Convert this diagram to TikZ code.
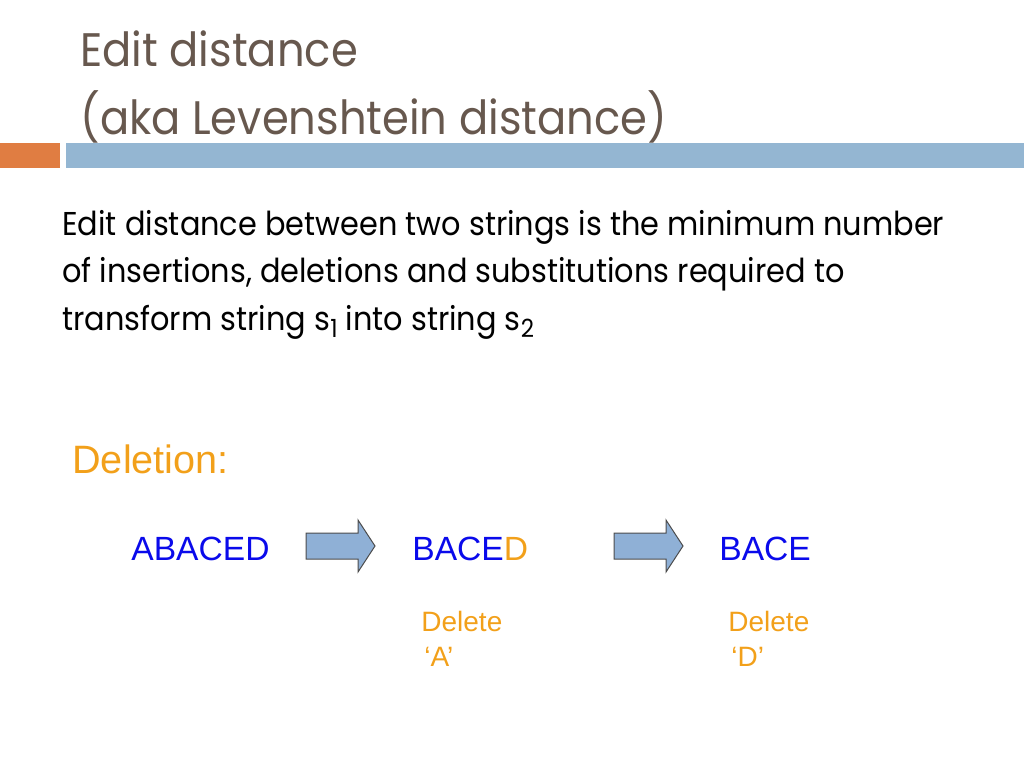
\documentclass[tikz,border=0pt]{standalone}
\usepackage{fontspec}
\setmainfont{Poppins}[FakeStretch=0.92]
\newfontfamily\arialfont{Liberation Sans}
\definecolor{titlegray}{RGB}{103,88,78}
\definecolor{barorange}{RGB}{224,125,66}
\definecolor{barblue}{RGB}{148,182,210}
\definecolor{arrowfill}{RGB}{143,176,214}
\definecolor{delorange}{RGB}{242,160,26}
\definecolor{wordblue}{RGB}{10,10,235}
\newcommand{\lowsub}[1]{\raisebox{-3.5pt}{\fontsize{12.5}{14}\selectfont #1}}
\tikzset{
	title/.style={anchor=base west, inner sep=0, text=titlegray, font=\fontsize{23.5}{28}\selectfont},
	body/.style={anchor=base west, inner sep=0, font=\fontsize{16.5}{20}\selectfont},
	word/.style={anchor=base west, inner sep=0, text=wordblue, font=\arialfont\fontsize{16.8}{20}\selectfont},
	note/.style={anchor=base west, inner sep=0, text=delorange, font=\arialfont\fontsize{14}{16}\selectfont},
	blockarrow/.style={draw=black!70, fill=arrowfill, line width=0.5pt}
}
\begin{document}
\begin{tikzpicture}[x=0.5pt, y=-0.5pt]
	\useasboundingbox (0,0) rectangle (1024,768);
	% title and bar
	\node[title] (title1) at (80,66) {Edit distance};
	\node[title] (title2) at (80,134) {(aka Levenshtein distance)};
	\fill[barorange] (0,143) rectangle (60,168);
	\fill[barblue] (66,143) rectangle (1024,168);
	% definition
	\node[body] (line1) at (62,235) {Edit distance between two strings is the minimum number};
	\node[body] (line2) at (62,282) {of insertions, deletions and substitutions required to};
	\node[body] (line3) at (62,330) {transform string s\lowsub{1} into string s\lowsub{2}};
	% example
	\node[anchor=base west, inner sep=0, text=delorange, font=\arialfont\fontsize{19.8}{24}\selectfont] (deletion) at (72,473) {Deletion:};
	\node[word] (w1) at (131,560) {ABACED};
	\node[word] (w2) at (412,560) {BACE\textcolor{delorange}{D}};
	\node[word] (w3) at (719,560) {BACE};
	\foreach \x [count=\i] in {306,614} {
		\draw[blockarrow] (\x,533) -- ++(52,0) -- ++(0,-13) -- ++(17,26)
			-- ++(-17,26) -- ++(0,-13) -- ++(-52,0) -- cycle;
	}
	\node[note] (del1) at (421,631) {Delete};
	\node[note] (del1b) at (424,666) {‘A’};
	\node[note] (del2) at (728,631) {Delete};
	\node[note] (del2b) at (731,666) {‘D’};
\end{tikzpicture}
\end{document}
